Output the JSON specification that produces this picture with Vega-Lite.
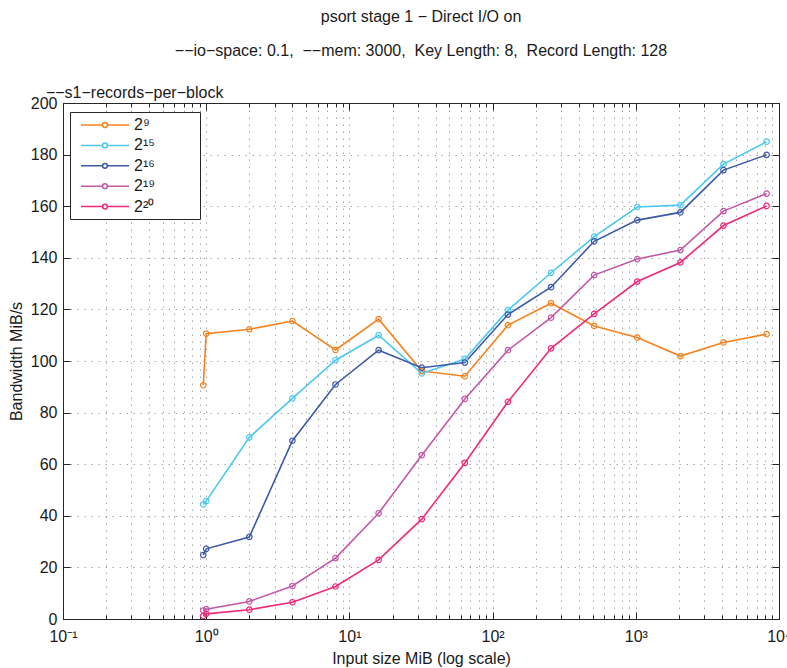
{
  "$schema": "https://vega.github.io/schema/vega-lite/v6.json",
  "autosize": {"type": "none"},
  "width": 716,
  "height": 516,
  "padding": {"left": 63, "top": 103, "right": 8, "bottom": 49},
  "background": "white",
  "title": {
    "text": ["psort stage 1 − Direct I/O on", "−−io−space: 0.1,\u00a0 −−mem: 3000,\u00a0 Key Length: 8,\u00a0 Record Length: 128"],
    "anchor": "middle",
    "frame": "group",
    "fontSize": 16,
    "fontWeight": "normal",
    "lineHeight": 34,
    "color": "#1a1a1a",
    "offset": 26
  },
  "data": {
    "values": [
      {"series": "2⁹", "size": 0.954, "bw": 90.6},
      {"series": "2⁹", "size": 1, "bw": 110.6},
      {"series": "2⁹", "size": 2, "bw": 112.3},
      {"series": "2⁹", "size": 4, "bw": 115.5},
      {"series": "2⁹", "size": 8, "bw": 104.3},
      {"series": "2⁹", "size": 16, "bw": 116.2},
      {"series": "2⁹", "size": 32, "bw": 96.1},
      {"series": "2⁹", "size": 64, "bw": 94.1},
      {"series": "2⁹", "size": 128, "bw": 113.9},
      {"series": "2⁹", "size": 256, "bw": 122.4},
      {"series": "2⁹", "size": 512, "bw": 113.6},
      {"series": "2⁹", "size": 1024, "bw": 109.1},
      {"series": "2⁹", "size": 2048, "bw": 101.9},
      {"series": "2⁹", "size": 4096, "bw": 107.2},
      {"series": "2⁹", "size": 8192, "bw": 110.4},
      {"series": "2¹⁵", "size": 0.954, "bw": 44.4},
      {"series": "2¹⁵", "size": 1, "bw": 45.7},
      {"series": "2¹⁵", "size": 2, "bw": 70.4},
      {"series": "2¹⁵", "size": 4, "bw": 85.5},
      {"series": "2¹⁵", "size": 8, "bw": 100.3},
      {"series": "2¹⁵", "size": 16, "bw": 110},
      {"series": "2¹⁵", "size": 32, "bw": 95.2},
      {"series": "2¹⁵", "size": 64, "bw": 100.8},
      {"series": "2¹⁵", "size": 128, "bw": 119.7},
      {"series": "2¹⁵", "size": 256, "bw": 134.2},
      {"series": "2¹⁵", "size": 512, "bw": 148.2},
      {"series": "2¹⁵", "size": 1024, "bw": 159.7},
      {"series": "2¹⁵", "size": 2048, "bw": 160.4},
      {"series": "2¹⁵", "size": 4096, "bw": 176.3},
      {"series": "2¹⁵", "size": 8192, "bw": 185},
      {"series": "2¹⁶", "size": 0.954, "bw": 24.8},
      {"series": "2¹⁶", "size": 1, "bw": 27.2},
      {"series": "2¹⁶", "size": 2, "bw": 31.8},
      {"series": "2¹⁶", "size": 4, "bw": 69.1},
      {"series": "2¹⁶", "size": 8, "bw": 90.9},
      {"series": "2¹⁶", "size": 16, "bw": 104.2},
      {"series": "2¹⁶", "size": 32, "bw": 97.4},
      {"series": "2¹⁶", "size": 64, "bw": 99.4},
      {"series": "2¹⁶", "size": 128, "bw": 118},
      {"series": "2¹⁶", "size": 256, "bw": 128.6},
      {"series": "2¹⁶", "size": 512, "bw": 146.4},
      {"series": "2¹⁶", "size": 1024, "bw": 154.6},
      {"series": "2¹⁶", "size": 2048, "bw": 157.6},
      {"series": "2¹⁶", "size": 4096, "bw": 174},
      {"series": "2¹⁶", "size": 8192, "bw": 179.9},
      {"series": "2¹⁹", "size": 0.954, "bw": 3.3},
      {"series": "2¹⁹", "size": 1, "bw": 3.8},
      {"series": "2¹⁹", "size": 2, "bw": 6.8},
      {"series": "2¹⁹", "size": 4, "bw": 12.8},
      {"series": "2¹⁹", "size": 8, "bw": 23.6},
      {"series": "2¹⁹", "size": 16, "bw": 41},
      {"series": "2¹⁹", "size": 32, "bw": 63.5},
      {"series": "2¹⁹", "size": 64, "bw": 85.3},
      {"series": "2¹⁹", "size": 128, "bw": 104.2},
      {"series": "2¹⁹", "size": 256, "bw": 116.8},
      {"series": "2¹⁹", "size": 512, "bw": 133.3},
      {"series": "2¹⁹", "size": 1024, "bw": 139.5},
      {"series": "2¹⁹", "size": 2048, "bw": 143},
      {"series": "2¹⁹", "size": 4096, "bw": 158.1},
      {"series": "2¹⁹", "size": 8192, "bw": 164.9},
      {"series": "2²⁰", "size": 0.954, "bw": 1.2},
      {"series": "2²⁰", "size": 1, "bw": 2},
      {"series": "2²⁰", "size": 2, "bw": 3.6},
      {"series": "2²⁰", "size": 4, "bw": 6.5},
      {"series": "2²⁰", "size": 8, "bw": 12.6},
      {"series": "2²⁰", "size": 16, "bw": 22.9},
      {"series": "2²⁰", "size": 32, "bw": 38.7},
      {"series": "2²⁰", "size": 64, "bw": 60.5},
      {"series": "2²⁰", "size": 128, "bw": 84.2},
      {"series": "2²⁰", "size": 256, "bw": 104.9},
      {"series": "2²⁰", "size": 512, "bw": 118.3},
      {"series": "2²⁰", "size": 1024, "bw": 130.8},
      {"series": "2²⁰", "size": 2048, "bw": 138.2},
      {"series": "2²⁰", "size": 4096, "bw": 152.5},
      {"series": "2²⁰", "size": 8192, "bw": 160.1}
    ]
  },
  "encoding": {
    "color": {
      "field": "series",
      "type": "nominal",
      "scale": {
        "domain": ["2⁹", "2¹⁵", "2¹⁶", "2¹⁹", "2²⁰"],
        "range": ["#f5821f", "#4cc8f0", "#3d5aa8", "#c457a6", "#ee2a7b"]
      },
      "legend": {
        "title": null,
        "orient": "none",
        "legendX": 7,
        "legendY": 9,
        "symbolType": "M-3,0H-0.3M0.3,0H3M0.3,0A0.3,0.3,0,1,1,-0.3,0A0.3,0.3,0,1,1,0.3,0M11,0",
        "symbolSize": 256,
        "symbolStrokeWidth": 1.5,
        "symbolFillColor": "transparent",
        "symbolOffset": 22,
        "labelOffset": 20,
        "labelFontSize": 16,
        "labelColor": "#1a1a1a",
        "rowPadding": 3.4,
        "padding": 4,
        "strokeColor": "#262626",
        "fillColor": "white"
      }
    }
  },
  "layer": [
    {
      "mark": {"type": "line", "strokeWidth": 1.6, "clip": true},
      "encoding": {
        "x": {
          "field": "size",
          "type": "quantitative",
          "scale": {"type": "log", "domain": [0.1, 10000], "nice": false},
          "axis": {
            "orient": "bottom",
            "title": "Input size MiB (log scale)",
            "titlePadding": 3,
            "values": [0.1, 0.2, 0.3, 0.4, 0.5, 0.6, 0.7, 0.8, 0.9, 1, 2, 3, 4, 5, 6, 7, 8, 9, 10, 20, 30, 40, 50, 60, 70, 80, 90, 100, 200, 300, 400, 500, 600, 700, 800, 900, 1000, 2000, 3000, 4000, 5000, 6000, 7000, 8000, 9000, 10000],
            "labelExpr": "datum.value == 0.1 ? '10⁻¹' : datum.value == 1 ? '10⁰' : datum.value == 10 ? '10¹' : datum.value == 100 ? '10²' : datum.value == 1000 ? '10³' : datum.value == 10000 ? '10⁴' : ''",
            "labelOverlap": false,
            "labelFlush": false,
            "labelPadding": 16,
            "tickSize": {"condition": {"test": "indexof([0.1, 1, 10, 100, 1000, 10000], datum.value) >= 0", "value": -7}, "value": -4},
            "grid": true
          }
        },
        "y": {
          "field": "bw",
          "type": "quantitative",
          "scale": {"domain": [0, 200], "nice": false},
          "axis": {
            "orient": "left",
            "title": "Bandwidth MiB/s",
            "values": [0, 20, 40, 60, 80, 100, 120, 140, 160, 180, 200],
            "tickSize": -7,
            "labelPadding": 13,
            "titlePadding": 6,
            "grid": true
          }
        }
      }
    },
    {
      "mark": {"type": "point", "shape": "circle", "filled": false, "size": 30, "strokeWidth": 1.2, "opacity": 1},
      "encoding": {
        "x": {
          "field": "size",
          "type": "quantitative",
          "axis": {
            "orient": "top",
            "title": null,
            "labels": false,
            "grid": false,
            "values": [0.1, 0.2, 0.3, 0.4, 0.5, 0.6, 0.7, 0.8, 0.9, 1, 2, 3, 4, 5, 6, 7, 8, 9, 10, 20, 30, 40, 50, 60, 70, 80, 90, 100, 200, 300, 400, 500, 600, 700, 800, 900, 1000, 2000, 3000, 4000, 5000, 6000, 7000, 8000, 9000, 10000],
            "tickSize": {"condition": {"test": "indexof([0.1, 1, 10, 100, 1000, 10000], datum.value) >= 0", "value": -7}, "value": -4}
          }
        },
        "y": {
          "field": "bw",
          "type": "quantitative",
          "axis": {
            "orient": "right",
            "title": null,
            "labels": false,
            "grid": false,
            "values": [0, 20, 40, 60, 80, 100, 120, 140, 160, 180, 200],
            "tickSize": -7
          }
        }
      }
    },
    {
      "data": {"values": [{"label": "−−s1−records−per−block", "lx": 0.076, "ly": 203.8}]},
      "mark": {"type": "text", "fontSize": 16, "align": "left", "baseline": "middle"},
      "encoding": {
        "x": {"field": "lx", "type": "quantitative", "axis": null},
        "y": {"field": "ly", "type": "quantitative", "axis": null},
        "text": {"field": "label"},
        "color": {"value": "#1a1a1a"}
      }
    }
  ],
  "resolve": {"axis": {"x": "independent", "y": "independent"}},
  "config": {
    "font": "'Liberation Sans', Arial, sans-serif",
    "view": {"stroke": "#262626", "strokeWidth": 1},
    "axis": {
      "labelFontSize": 16,
      "titleFontSize": 16,
      "titleFontWeight": "normal",
      "labelColor": "#1a1a1a",
      "titleColor": "#1a1a1a",
      "domainColor": "#262626",
      "tickColor": "#262626",
      "domainWidth": 1,
      "tickWidth": 1,
      "gridColor": "#a8a8a8",
      "gridDash": [1.5, 5.5],
      "gridWidth": 1
    }
  }
}
